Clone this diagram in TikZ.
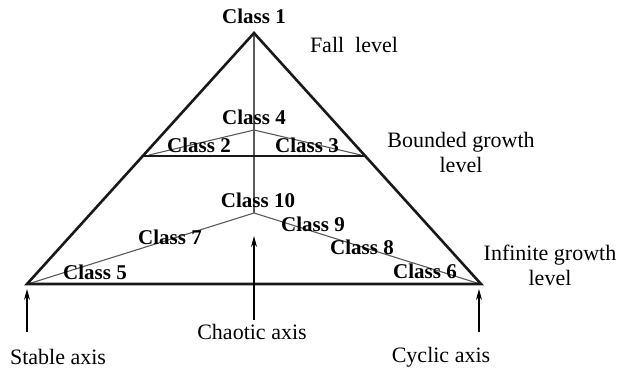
\documentclass[tikz,border=0pt]{standalone}
\usepackage{fontspec}
\setmainfont{Liberation Serif}
\usetikzlibrary{arrows.meta}
\begin{document}
\begin{tikzpicture}[x=1pt,y=-1pt,
  cls/.style={font=\bfseries\fontsize{21}{22}\selectfont, inner sep=0pt},
  lbl/.style={font=\fontsize{22}{25}\selectfont, inner sep=0pt, align=center},
  heavy/.style={line width=2.6pt, black!90},
  thin/.style={line width=1.1pt, black!65},
  axarrow/.style={line width=1.2pt, -{Stealth[length=11pt,width=6pt]}}]
\useasboundingbox (0,0) rectangle (624,373);
% key points
\coordinate (A) at (254,33);
\coordinate (L) at (27,284);
\coordinate (R) at (481,284);
\coordinate (BL) at (144,156);
\coordinate (BR) at (365,156);
\coordinate (J4) at (254,130);
\coordinate (J10) at (254,213);
\coordinate (BL2) at (149,155);
\coordinate (BR2) at (361,155);
\coordinate (L2) at (31,283);
\coordinate (R2) at (477,283);
% inner thin lines
\draw[thin] (A) -- (J10);
\draw[thin] (J4) -- (BL2);
\draw[thin] (J4) -- (BR2);
\draw[thin] (J10) -- (L2);
\draw[thin] (J10) -- (R2);
% triangle and bounded level
\draw[heavy, line join=miter] (A) -- (L) -- (R) -- cycle;
\draw[heavy] (BL) -- (BR);
% labels
\node[cls] (c1) at (254,16) {Class 1};
\node[cls] (c4) at (254,117) {Class 4};
\node[cls] (c2) at (199,145) {Class 2};
\node[cls] (c3) at (307,145) {Class 3};
\node[cls] (c10) at (258,200) {Class 10};
\node[cls] (c9) at (313,224) {Class 9};
\node[cls] (c7) at (170,237) {Class 7};
\node[cls] (c8) at (362,247) {Class 8};
\node[cls] (c5) at (95,272) {Class 5};
\node[cls] (c6) at (425,271) {Class 6};
\node[lbl] (fall) at (354,45) {Fall\ \ level};
\node[lbl] (bnd) at (461,152) {Bounded growth\\level};
\node[lbl] (inf) at (550,265) {Infinite growth\\level};
% axes
\coordinate (sT) at (27,332);
\coordinate (sH) at (27,289);
\coordinate (cT) at (254,320);
\coordinate (cH) at (254,236);
\coordinate (yT) at (479,332);
\coordinate (yH) at (479,289);
\draw[axarrow] (sT) -- (sH);
\draw[axarrow] (cT) -- (cH);
\draw[axarrow] (yT) -- (yH);
\node[lbl] (stable) at (58,357) {Stable axis};
\node[lbl] (chaotic) at (252,332) {Chaotic axis};
\node[lbl] (cyclic) at (441,357) {Cyclic axis};
\end{tikzpicture}
\end{document}
